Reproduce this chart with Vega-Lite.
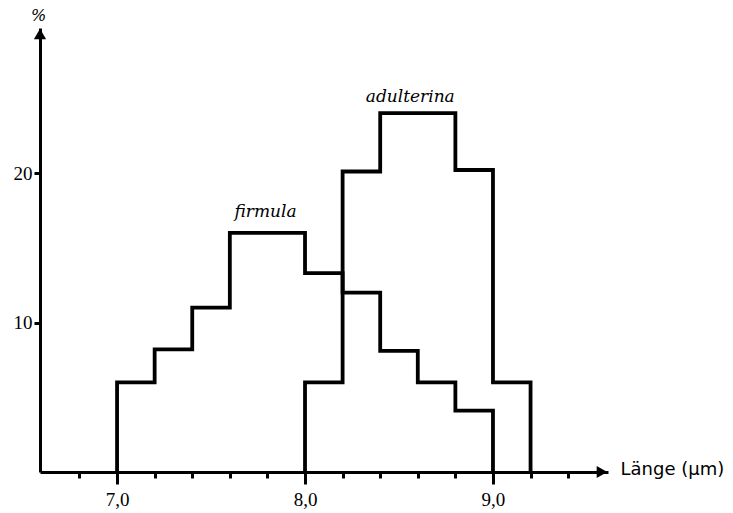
{
  "$schema": "https://vega.github.io/schema/vega-lite/v6.json",
  "autosize": {"type": "none"},
  "width": 568,
  "height": 444,
  "padding": {"left": 40, "top": 28, "right": 125, "bottom": 41},
  "background": "white",
  "config": {"view": {"stroke": null}},
  "datasets": {
    "hist": [
      {"series": "firmula", "order": 0, "x": 7.0, "y": 0},
      {"series": "firmula", "order": 1, "x": 7.0, "y": 6},
      {"series": "firmula", "order": 2, "x": 7.2, "y": 8.2},
      {"series": "firmula", "order": 3, "x": 7.4, "y": 11},
      {"series": "firmula", "order": 4, "x": 7.6, "y": 16},
      {"series": "firmula", "order": 5, "x": 8.0, "y": 13.3},
      {"series": "firmula", "order": 6, "x": 8.2, "y": 12},
      {"series": "firmula", "order": 7, "x": 8.4, "y": 8.1},
      {"series": "firmula", "order": 8, "x": 8.6, "y": 6},
      {"series": "firmula", "order": 9, "x": 8.8, "y": 4.1},
      {"series": "firmula", "order": 10, "x": 9.0, "y": 0},
      {"series": "adulterina", "order": 0, "x": 8.0, "y": 0},
      {"series": "adulterina", "order": 1, "x": 8.0, "y": 6},
      {"series": "adulterina", "order": 2, "x": 8.2, "y": 20.1},
      {"series": "adulterina", "order": 3, "x": 8.4, "y": 24},
      {"series": "adulterina", "order": 4, "x": 8.8, "y": 20.2},
      {"series": "adulterina", "order": 5, "x": 9.0, "y": 6},
      {"series": "adulterina", "order": 6, "x": 9.2, "y": 0}
    ],
    "labels": [
      {"name": "firmula", "x": 7.79, "y": 17.4},
      {"name": "adulterina", "x": 8.56, "y": 25.1}
    ],
    "arrows": [
      {"dir": "right", "x": 9.58, "y": 0},
      {"dir": "up", "x": 6.59, "y": 29.3}
    ]
  },
  "layer": [
    {
      "data": {"name": "hist"},
      "mark": {"type": "tick", "opacity": 0},
      "encoding": {
        "x": {
          "field": "x", "type": "quantitative",
          "scale": {"domain": [6.59, 9.612], "nice": false, "zero": false},
          "axis": {
            "orient": "bottom",
            "values": [6.8, 7.2, 7.4, 7.6, 7.8, 8.2, 8.4, 8.6, 8.8, 9.2, 9.4],
            "labels": false, "domain": false, "grid": false, "title": null,
            "tickColor": "black", "tickWidth": 3, "tickSize": 6
          }
        },
        "y": {"field": "y", "type": "quantitative", "scale": {"domain": [0, 29.7], "nice": false}, "axis": null}
      }
    },
    {
      "data": {"name": "hist"},
      "mark": {"type": "line", "interpolate": "step-after", "color": "black", "strokeWidth": 3.8, "strokeJoin": "miter", "strokeCap": "butt", "clip": false},
      "encoding": {
        "x": {
          "field": "x", "type": "quantitative",
          "axis": {
            "orient": "bottom",
            "values": [7, 8, 9],
            "labelExpr": "replace(format(datum.value, '.1f'), '.', ',')",
            "grid": false,
            "domainColor": "black", "domainWidth": 3,
            "tickColor": "black", "tickWidth": 3, "tickSize": 12,
            "labelFont": "Liberation Serif", "labelFontSize": 19, "labelColor": "black",
            "labelPadding": 6,
            "title": "Länge (μm)",
            "titleFont": "DejaVu Sans", "titleFontWeight": "normal", "titleFontSize": 18, "titleColor": "black",
            "titleAnchor": null, "titleAlign": "left", "titleBaseline": "middle",
            "titleX": 580, "titleY": -3
          }
        },
        "y": {
          "field": "y", "type": "quantitative",
          "axis": {
            "orient": "left",
            "values": [10, 20],
            "grid": false,
            "domainColor": "black", "domainWidth": 3,
            "tickColor": "black", "tickWidth": 3, "tickSize": 6,
            "labelFont": "Liberation Serif", "labelFontSize": 19, "labelColor": "black",
            "labelPadding": 2,
            "title": "%",
            "titleFont": "DejaVu Serif", "titleFontStyle": "italic", "titleFontWeight": "normal", "titleFontSize": 16, "titleColor": "black",
            "titleAngle": 0, "titleAlign": "center", "titleBaseline": "middle",
            "titleX": -2, "titleY": -13
          }
        },
        "detail": {"field": "series"},
        "order": {"field": "order", "type": "quantitative"}
      }
    },
    {
      "data": {"name": "labels"},
      "mark": {"type": "text", "font": "DejaVu Serif", "fontStyle": "italic", "fontSize": 17, "color": "black", "align": "center", "baseline": "middle"},
      "encoding": {
        "x": {"field": "x", "type": "quantitative", "axis": null},
        "y": {"field": "y", "type": "quantitative", "axis": null},
        "text": {"field": "name"}
      }
    },
    {
      "data": {"name": "arrows"},
      "mark": {"type": "point", "filled": true, "color": "black", "opacity": 1, "size": 150, "clip": false},
      "encoding": {
        "x": {"field": "x", "type": "quantitative", "axis": null},
        "y": {"field": "y", "type": "quantitative", "axis": null},
        "shape": {"field": "dir", "type": "nominal", "scale": {"domain": ["right", "up"], "range": ["triangle-right", "triangle-up"]}, "legend": null}
      }
    }
  ],
  "resolve": {"axis": {"x": "independent", "y": "independent"}}
}
